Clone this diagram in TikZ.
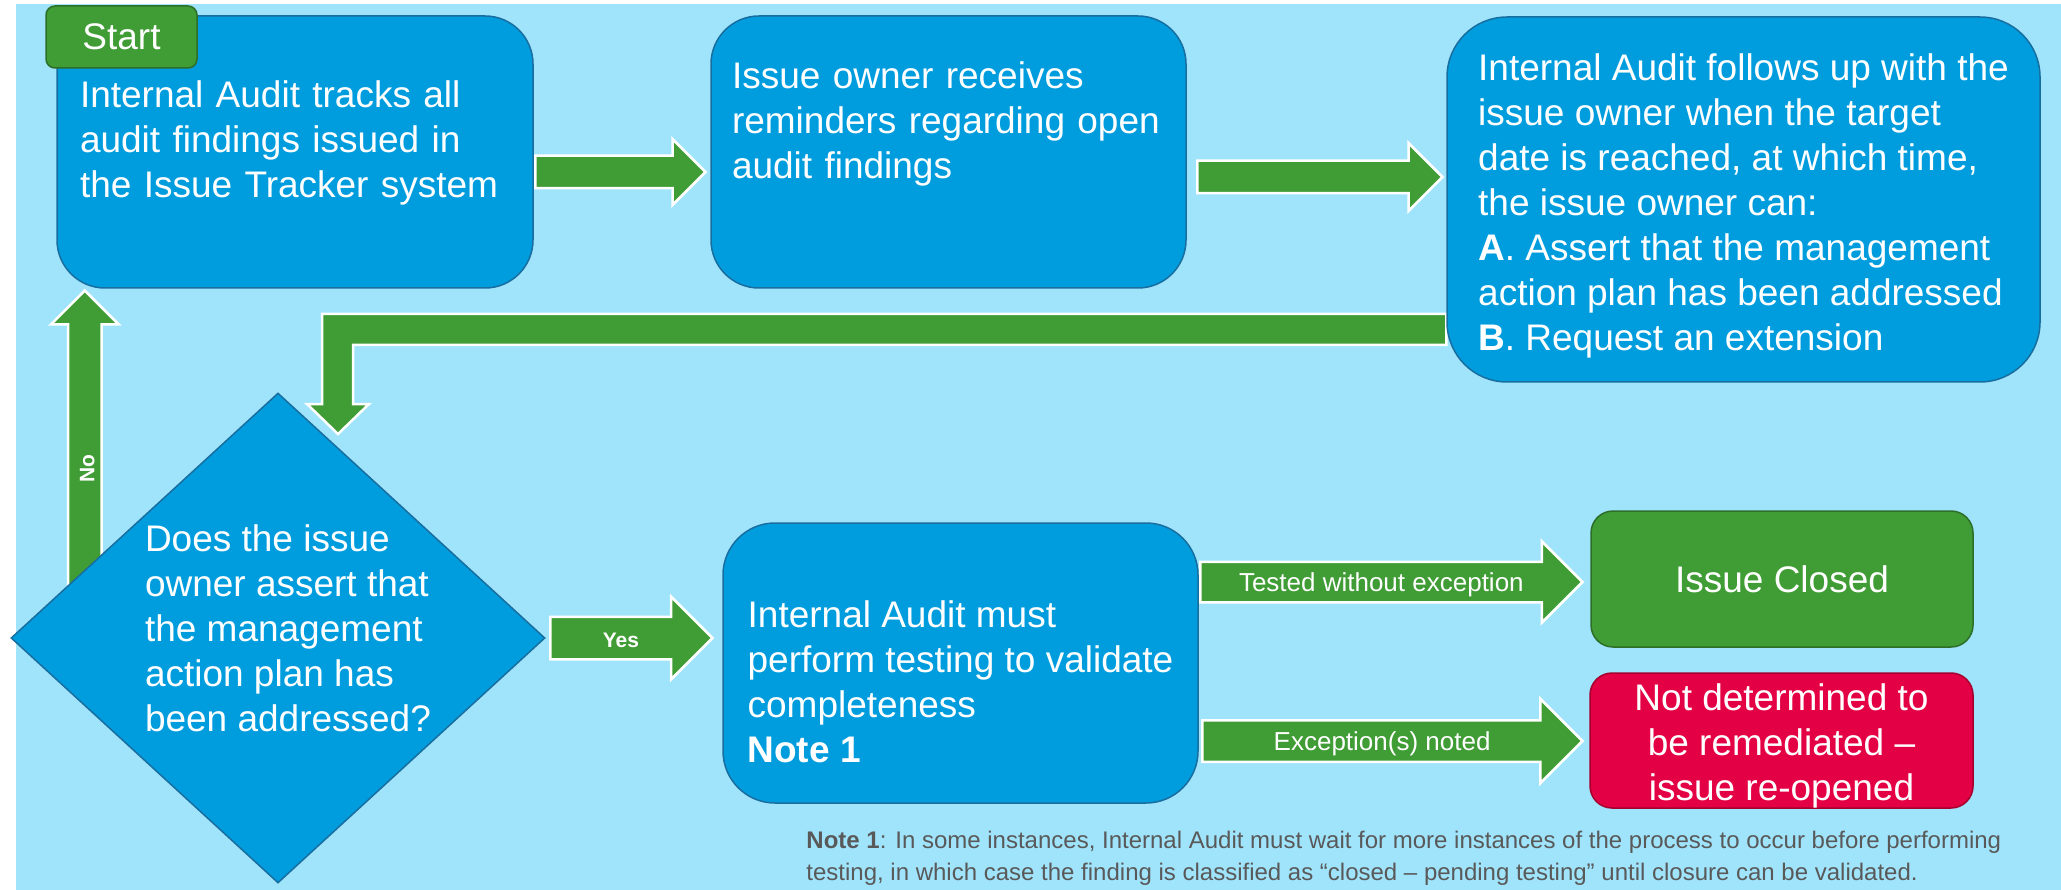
\documentclass[tikz,border=0pt]{standalone}
\usepackage{fontspec}
\setmainfont{Liberation Sans}
\usetikzlibrary{shapes.geometric,shapes.arrows,calc}

\definecolor{canvasblue}{RGB}{160,228,252}
\definecolor{boxblue}{RGB}{0,157,222}
\definecolor{boxedge}{RGB}{25,110,160}
\definecolor{flowgreen}{RGB}{64,156,52}
\definecolor{greenedge}{RGB}{45,110,40}
\definecolor{alertred}{RGB}{228,0,68}
\definecolor{rededge}{RGB}{165,0,45}
\definecolor{notegray}{RGB}{89,89,89}

\pgfdeclarelayer{back}
\pgfsetlayers{back,main}

\begin{document}
\begin{tikzpicture}[x=1pt, y=-1pt]

\tikzset{boxtext/.style = {text=white, align=left, inner sep=0pt, font=\fontsize{37}{45}\selectfont}}
\tikzset{stepbox/.style = {boxtext, draw=boxedge, line width=1.5pt, fill=boxblue, rounded corners=#1}, stepbox/.default=48pt}
\tikzset{decision/.style = {diamond, draw=boxedge, line width=1.5pt, fill=boxblue, aspect=1.09, inner sep=0pt}}
\tikzset{endbox/.style = {boxtext, align=center, line width=1.5pt, rounded corners=22pt}}
\tikzset{starttag/.style = {boxtext, align=center, fill=flowgreen, draw=greenedge, line width=1.5pt, rounded corners=9pt}}
\tikzset{bigarrow/.style n args = {3}{single arrow, fill=flowgreen, draw=white, line width=2.5pt, text=white,
    inner xsep=2pt, inner ysep=0pt, text height={#2/2+9.5}, text depth={#2/2-9.5},
    minimum height=#1, minimum width=#3, single arrow head extend={(#3-#2)/2}, anchor=tip, font=\fontsize{26}{30}\selectfont}}
\tikzset{flowline/.style = {fill=flowgreen, draw=white, line width=2.5pt}}
\tikzset{answer/.style = {font=\fontsize{21}{24}\selectfont\bfseries}}
\tikzset{note/.style = {text=notegray, align=left, inner sep=0pt, font=\fontsize{24}{32}\selectfont}}

\useasboundingbox (0,0) rectangle (2061,890);
\begin{pgfonlayer}{back}
\fill[white] (0,0) rectangle (2061,890);
\fill[canvasblue] (16,4) rectangle (2061,890);
\end{pgfonlayer}

\node[stepbox, minimum width=476, minimum height=272, text width=430] (track) at (295,152)
  {Internal Audit tracks all\\ audit findings issued in\\ the Issue Tracker system\rule[-26.5pt]{0pt}{26.5pt}};
\node[stepbox, minimum width=475, minimum height=272, text width=433] (remind) at (948.5,152)
  {Issue owner receives\\ reminders regarding open\\ audit findings\rule[-64.5pt]{0pt}{64.5pt}};
\node[stepbox=60pt, minimum width=593, minimum height=365] (follow) at (1743.5,199.5)
  {\rule{0pt}{39pt}Internal Audit follows up with the\\ issue owner when the target\\ date is reached, at which time,\\
   the issue owner can:\\ \textbf{A}. Assert that the management\\ action plan has been addressed\\ \textbf{B}. Request an extension};
\node[starttag, minimum width=151, minimum height=62] (start) at (121.5,37) {Start};

\node[decision, minimum width=534, minimum height=490] (assert) at (278,638) {};
\node[boxtext] (asserttext) at ($(assert)+(10,-10)$)
  {Does the issue\\ owner assert that\\ the management\\ action plan has\\ been addressed?};

\node[stepbox=52pt, minimum width=475, minimum height=280] (testing) at (960.5,663)
  {\rule{0pt}{65pt}Internal Audit must\\ perform testing to validate\\ completeness\\ \textbf{Note 1}};
\node[endbox, fill=flowgreen, draw=greenedge, minimum width=382, minimum height=136] (closed) at (1782,579) {Issue Closed};
\node[endbox, fill=alertred, draw=rededge, minimum width=383, minimum height=135] (reopened) at (1781.5,740.5)
  {\rule{0pt}{37pt}Not determined to\\ be remediated –\\ issue re-opened};

\node[note, anchor=north west] (footnote) at ($(testing.south west)+(84,27)$)
  {\textbf{Note 1}: In some instances, Internal Audit must wait for more instances of the process to occur before performing\\
   testing, in which case the finding is classified as “closed – pending testing” until closure can be validated.};

% arrows
\begin{pgfonlayer}{back}
\node[bigarrow={170}{30}{63}] (a1) at ($(remind.west)+(-3,20)$) {};
\node[bigarrow={245}{30}{65}] (a2) at ($(follow.west)+(-2,-22.5)$) {};
\coordinate (elbow) at (337.5,329.5);
\draw[flowline] ($(follow.west |- elbow)+(0,-15.5)$) -- ($(elbow)+(-15.5,-15.5)$) -- ++(0,90) -- ++(-15,0)
  -- ++(31,30) -- ++(31,-30) -- ++(-16,0) -- ($(elbow)+(15.5,15.5)$) -- ($(follow.west |- elbow)+(0,15.5)$) -- cycle;
\node[bigarrow={340}{31}{65}, rotate=90, answer] (no) at ($(track.south west)+(28.5,0)$) {No};
\node[bigarrow={162}{40}{80}, answer] (yes) at ($(testing.west)+(-8,-25)$) {Yes};
\node[bigarrow={382}{38}{79}] (pass) at ($(closed.west)+(-6,3)$) {Tested without exception};
\node[bigarrow={380}{39}{82}] (fail) at ($(reopened.west)+(-5,0.5)$) {Exception(s) noted};
\end{pgfonlayer}

\end{tikzpicture}
\end{document}
